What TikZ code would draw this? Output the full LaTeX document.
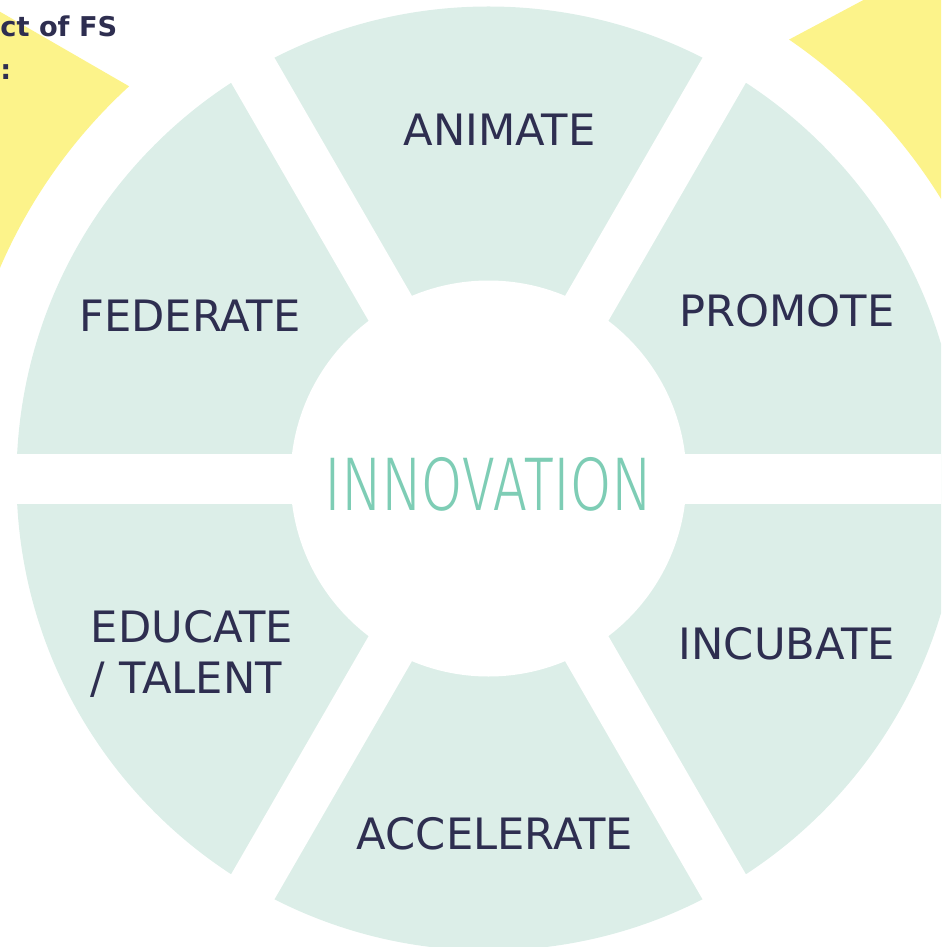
\documentclass[tikz,border=0pt]{standalone}
\usepackage{fontspec}
\setmainfont{DejaVu Sans}
\newfontfamily\innofont{Fira Sans Light}
\usetikzlibrary{positioning}
\definecolor{ringgreen}{HTML}{DCEEE8}
\definecolor{sunyellow}{HTML}{FCF38A}
\definecolor{navytext}{HTML}{2E2E50}
\definecolor{mintgreen}{HTML}{7ECDB5}

\begin{document}
\begin{tikzpicture}[x=0.2mm, y=0.2mm,
    part/.style={font=\fontsize{24.6}{28.9}\selectfont, text=navytext, inner sep=0pt, anchor=base},
    title/.style={font=\bfseries\fontsize{15.5}{18}\selectfont, text=navytext, inner sep=0pt, anchor=base west},
    gap/.style={white, line width=10mm}]
    \useasboundingbox (0,-947) rectangle (941,0);
    \clip (0,-947) rectangle (941,0);
    \coordinate (c) at (488.5,-478.5);
    % yellow parts of the outer ring
    \path (c) ++(132.5:532) coordinate (k1);
    \path (c) ++(55.6:532) coordinate (k2);
    \fill[sunyellow] (k1) arc[start angle=132.5, end angle=180, radius=532] -- ++(-120,0) -- ([shift={(150:330)}]k1) -- cycle;
    \fill[sunyellow] (k2) arc[start angle=55.6, end angle=0, radius=532] -- ++(150,0) -- ([shift={(28:450)}]k2) -- cycle;
    % the six parts
    \fill[ringgreen] (c) circle (472);
    \foreach \a in {0,60,120}
        \draw[gap] (c) ++(\a:490) -- ++(\a+180:980);
    \fill[white] (c) circle (198);
    \node[part] (animate) at (499.5,-146) {ANIMATE};
    \node[part] (promote) at (787,-326) {PROMOTE};
    \node[part] (federate) at (190,-331) {FEDERATE};
    \node[part, align=left] (educate) at (192,-693) {EDUCATE\\/ TALENT};
    \node[part] (incubate) at (787,-659) {INCUBATE};
    \node[part] (accelerate) at (495,-849) {ACCELERATE};
    \node[anchor=base, inner sep=0pt, text=mintgreen, font=\innofont\fontsize{43.4}{50}\selectfont] (innovation) at (488,-510.7) {\scalebox{0.78}[1]{INNOVATION}};
    % title, at the edge
    \node[title] (impact) at (0,-37) {ct of FS};
    \node[title] (colon) at (0,-80) {:};
\end{tikzpicture}
\end{document}
